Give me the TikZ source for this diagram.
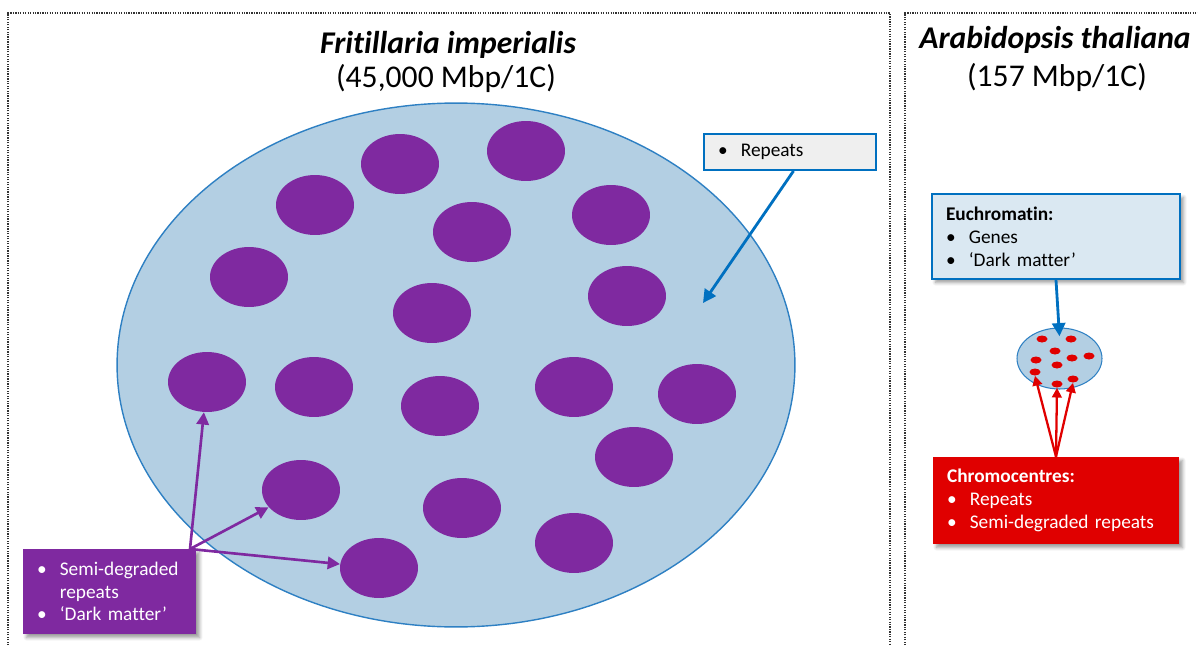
\documentclass[tikz,border=0pt]{standalone}
\usepackage{fontspec}
\setmainfont{Carlito}[Ligatures={TeX,NoCommon}]
\usepackage{tikz}
\usetikzlibrary{positioning,arrows.meta,shapes.geometric,shadows.blur}
\definecolor{cellfill}{RGB}{179,207,227}
\definecolor{cellline}{RGB}{46,128,195}
\definecolor{darkpurple}{RGB}{127,41,160}
\definecolor{arrowblue}{RGB}{0,112,192}
\definecolor{repfill}{RGB}{239,239,239}
\definecolor{eufill}{RGB}{218,232,242}
\definecolor{chromored}{RGB}{224,0,0}
\tikzset{
  panel/.style={draw=black!80, line width=0.7pt, dash pattern=on 0.7pt off 0.7pt},
  titletext/.style={anchor=base, font=\fontsize{18}{22}\selectfont},
  infobox/.style={rectangle, align=left, inner xsep=0.28cm, inner ysep=0pt,
    font=\fontsize{11}{13}\selectfont},
  boxshadow/.style={blur shadow={shadow xshift=2pt, shadow yshift=-2pt,
    shadow blur steps=6, shadow opacity=40}},
  bluearrow/.style={-{Triangle[length=7.5pt,width=7.5pt]}, line width=1.6pt, draw=arrowblue},
}
\newcommand{\blt}{\makebox[13pt][l]{\textbullet}}

\begin{document}
\begin{tikzpicture}[x=0.02cm, y=-0.02cm,
    dark/.style={ellipse, fill=darkpurple, inner sep=0, minimum width=1.56cm, minimum height=1.2cm},
    reddot/.style={ellipse, fill=chromored, inner sep=0, minimum width=0.22cm, minimum height=0.14cm},
    purplearrow/.style={-{Triangle[length=7pt,width=7pt]}, line width=1.5pt, draw=darkpurple},
    redarrow/.style={-{Triangle[length=5.5pt,width=5.5pt]}, line width=1.3pt, draw=chromored}]
  \useasboundingbox (0,0) rectangle (1198,646);
  \clip (0,0) rectangle (1198,646);
  % panels
  \draw[panel] (8,660) -- (8,13) -- (890,13) -- (890,660);
  \draw[panel] (905,660) -- (905,13) -- (1215,13);
  \node[titletext] (ftitle) at (448,53) {\textbf{\textit{Fritillaria imperialis}}};
  \node[titletext] (fsize) at (446,87) {(45,000 Mbp/1C)};
  \node[titletext] (atitle) at (1055,48) {\textbf{\textit{Arabidopsis thaliana}}};
  \node[titletext] (asize) at (1057,86) {(157 Mbp/1C)};
  % Fritillaria nucleus
  \node[ellipse, draw=cellline, fill=cellfill, line width=0.8pt, inner sep=0,
    minimum width=13.56cm, minimum height=10.48cm] (cell) at (456,365) {};
  \foreach \i/\px/\py in {1/400/164, 2/526/151, 3/315/205, 4/472/232, 5/611/215,
      6/249/277, 7/432/313, 8/627/296, 9/207/382, 10/314/387, 11/440/406,
      12/574/387, 13/697/394, 14/634/457, 15/301/490, 16/462/508, 17/574/543, 18/379/568}
    \node[dark] (d\i) at (\px,\py) {};
  \node[infobox, draw=arrowblue, fill=repfill, line width=1.1pt, text width=2.88cm,
    minimum height=0.72cm] (rep) at (790,152) {\blt Repeats};
  \coordinate (reptip) at (703,303);
  \draw[bluearrow] ([xshift=2pt]rep.south) -- (reptip);
  \node[infobox, fill=darkpurple, text=white, text width=2.9cm, minimum height=1.7cm,
    boxshadow] (dm) at (109.5,591.5) {\blt Semi-degraded\\\hspace*{13pt}repeats\\\blt ‘Dark matter’};
  \coordinate (fan) at (190,549);
  \draw[purplearrow] (fan) -- (d9);
  \draw[purplearrow] (fan) -- (d15);
  \draw[purplearrow] (fan) -- (d18);
  % Arabidopsis nucleus
  \node[ellipse, draw=cellline, fill=cellfill, line width=0.6pt, inner sep=0,
    minimum width=1.7cm, minimum height=1.22cm] (nuc) at (1059.5,358.5) {};
  \foreach \i/\px/\py in {1/1042/339, 2/1071/339, 3/1055/351, 4/1036/360, 5/1072/358,
      6/1089/356, 7/1057/365, 8/1035/372, 9/1057/384, 10/1073/379}
    \node[reddot] (r\i) at (\px,\py) {};
  \node[infobox, draw=arrowblue, fill=eufill, line width=1.1pt, text width=4.4cm,
    minimum height=1.7cm, boxshadow] (eu) at (1056,236.5)
    {\textbf{Euchromatin:}\\\blt Genes\\\blt ‘Dark matter’};
  \draw[bluearrow] (eu.south) -- ([yshift=-5pt]nuc.north);
  \node[infobox, fill=chromored, text=white, text width=4.36cm, minimum height=1.74cm,
    boxshadow] (chromo) at (1056,500.5)
    {\textbf{Chromocentres:}\\\blt Repeats\\\blt Semi-degraded repeats};
  \draw[redarrow] (chromo.north) -- (r8.south);
  \draw[redarrow] (chromo.north) -- (r9.south);
  \draw[redarrow] (chromo.north) -- (r10.south);
\end{tikzpicture}
\end{document}
